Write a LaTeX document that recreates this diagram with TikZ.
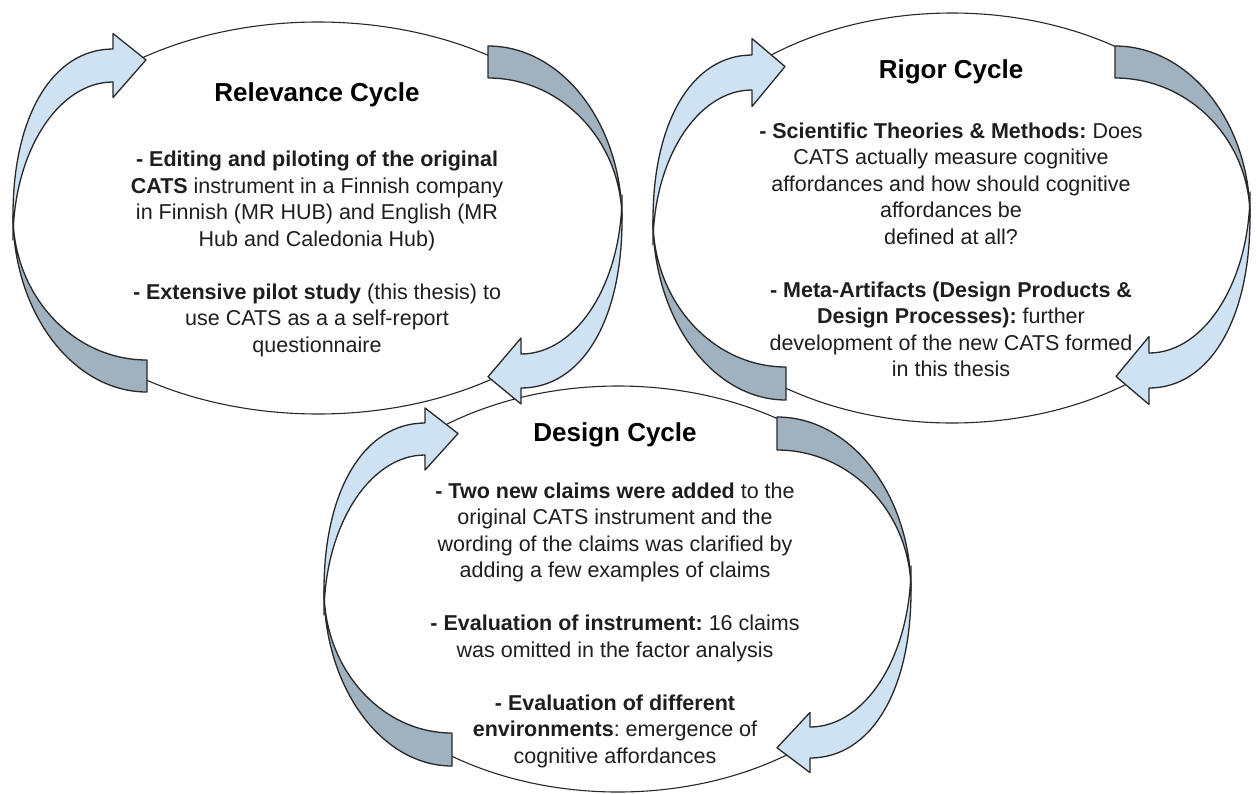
\documentclass[tikz,border=0pt]{standalone}
\usepackage{fontspec}
\setmainfont{Liberation Sans}
\frenchspacing
\definecolor{cylight}{RGB}{207,226,243}
\definecolor{cydark}{RGB}{160,177,192}
\definecolor{cyline}{RGB}{40,40,40}
\definecolor{cytext}{RGB}{30,30,30}

% One curved arrow of a cycle: a shaded back band from the tail to the
% turning point, and a light front band from there to the arrow head.
% #1 turning x, #2 turning y, #3 tail x, #4 tail outer y, #5 tail inner y,
% #6 head base x, #7 head outer y, #8 head inner y, #9 head direction (+1/-1)
\newcommand\cyclearrow[9]{%
  \pgfmathsetmacro\cyKa{#3+0.5523*(#1-#3)}%
  \pgfmathsetmacro\cyKb{#2+0.5523*(#4-#2)}%
  \pgfmathsetmacro\cyKc{#2+0.5523*(#5-#2)}%
  \pgfmathsetmacro\cyKd{#6+0.60*(#1-#6)}%
  \pgfmathsetmacro\cyKe{#2+0.60*(#7-#2)}%
  \pgfmathsetmacro\cyM{#2+25*sign(#4-#2)}%
  \pgfmathsetmacro\cyKg{#6+0.5523*(#1-#6)}%
  \pgfmathsetmacro\cyKf{\cyM+0.5523*(#8-\cyM)}%
  \pgfmathsetmacro\cyBo{#7+0.47*(#7-#8)}%
  \pgfmathsetmacro\cyBi{#8+0.47*(#8-#7)}%
  \pgfmathsetmacro\cyTx{#6+33*#9}%
  \pgfmathsetmacro\cyTy{(#7+#8)/2+0.17*(#7-#8)}%
  \draw[backface] (#3,#4) .. controls (\cyKa,#4) and (#1,\cyKb) .. (#1,#2)
    .. controls (#1,\cyKc) and (\cyKa,#5) .. (#3,#5) -- cycle;
  \draw[frontface] (#1,#2) .. controls (#1,\cyKe) and (\cyKd,#7) .. (#6,#7)
    -- (#6,\cyBo) -- (\cyTx,\cyTy) -- (#6,\cyBi) -- (#6,#8)
    .. controls (\cyKg,#8) and (#1,\cyKf) .. (#1,\cyM) -- cycle;
}

% The visible upper and lower parts of a cycle's outline, running
% between the arrows: centre x, centre y, x radius, y radius,
% and the four end angles (upper from #5 to #6, lower from #7 to #8).
\newcommand\cycleoutline[8]{%
  \draw[ring] plot[domain=#5:#6,samples=70,smooth] ({#1+#3*cos(\x)},{#2+#4*sin(\x)});
  \draw[ring] plot[domain=#7:#8,samples=70,smooth] ({#1+#3*cos(\x)},{#2+#4*sin(\x)});
}

\begin{document}
\begin{tikzpicture}[x=1pt,y=-1pt,
  backface/.style={fill=cydark,draw=cyline,line width=1.3pt,line join=round},
  frontface/.style={fill=cylight,draw=cyline,line width=1.3pt,line join=round},
  ring/.style={draw=cyline,line width=1.1pt},
  cycletitle/.style={font=\bfseries\fontsize{26}{30}\selectfont,text=black,inner sep=0pt},
  cyclebody/.style={font=\fontsize{21.5}{26.5}\selectfont,text=cytext,align=center,inner sep=0pt}]

\fill[white] (0,0) rectangle (1257,793);
\useasboundingbox (0,0) rectangle (1257,793);

% outlines of the three cycles
\cycleoutline{318}{218}{305}{196}{232}{305}{53}{127}
\cycleoutline{952}{218}{298}{205}{230}{306}{54}{127}
\cycleoutline{618}{589}{293}{203}{233}{306}{54}{127}

% relevance cycle arrows
\cyclearrow{13}{215}{147}{392}{360}{113}{49}{82}{1}
\cyclearrow{622}{220}{488}{46}{78}{521}{388}{354}{-1}
% rigor cycle arrows
\cyclearrow{653}{220}{786}{400}{367}{752}{55}{90}{1}
\cyclearrow{1250}{217}{1115}{46}{78}{1149}{388}{353}{-1}
% design cycle arrows
\cyclearrow{324}{590}{452}{766}{733}{425}{423}{455}{1}
\cyclearrow{911}{591}{777}{417}{450}{810}{758}{727}{-1}

% relevance cycle text
\node[cycletitle] (reltitle) at (317,95) {Relevance Cycle};
\node[cyclebody] (relbody) at (317,254) {%
  \textbf{- Editing and piloting of the original}\\
  \textbf{CATS} instrument in a Finnish company\\
  in Finnish (MR HUB) and English (MR\\
  Hub and Caledonia Hub)\\[26.5pt]
  \textbf{- Extensive pilot study} (this thesis) to\\
  use CATS as a a self-report\\
  questionnaire};

% rigor cycle text
\node[cycletitle] (rigtitle) at (951,72) {Rigor Cycle};
\node[cyclebody] (rigbody) at (951,250) {%
  \textbf{- Scientific Theories \& Methods:} Does\\
  CATS actually measure cognitive\\
  affordances and how should cognitive\\
  affordances be\\
  defined at all?\\[26.5pt]
  \textbf{- Meta-Artifacts (Design Products \&}\\
  \textbf{Design Processes):} further\\
  development of the new CATS formed\\
  in this thesis};

% design cycle text
\node[cycletitle] (destitle) at (615,435) {Design Cycle};
\node[cyclebody] (desbody) at (615,625) {%
  \textbf{- Two new claims were added} to the\\
  original CATS instrument and the\\
  wording of the claims was clarified by\\
  adding a few examples of claims\\[26.5pt]
  \textbf{- Evaluation of instrument:} 16 claims\\
  was omitted in the factor analysis\\[26.5pt]
  \textbf{- Evaluation of different}\\
  \textbf{environments}: emergence of\\
  cognitive affordances};
\end{tikzpicture}
\end{document}
